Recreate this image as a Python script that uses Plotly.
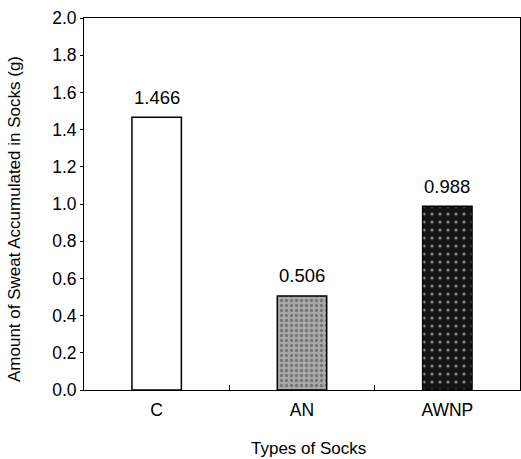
import plotly.graph_objects as go

categories = ["C", "AN", "AWNP"]
values = [1.466, 0.506, 0.988]
labels = ["1.466", "0.506", "0.988"]
colors = ["#ffffff", "#a9a9a9", "#141414"]
tick_vals = [0.0, 0.2, 0.4, 0.6, 0.8, 1.0, 1.2, 1.4, 1.6, 1.8, 2.0]
tick_text = ["0.0", "0.2", "0.4", "0.6", "0.8", "1.0", "1.2", "1.4", "1.6", "1.8", "2.0"]
x_title = "Types of Socks"
y_title = "Amount of Sweat Accumulated in Socks (g)"

font_family = "Liberation Sans, Arial, sans-serif"

fig = go.Figure()
fig.add_trace(go.Bar(
    x=categories,
    y=values,
    width=0.34,
    marker=dict(
        color=colors,
        line=dict(color="black", width=1.5),
        pattern=dict(shape=["", ".", "."], fgcolor=["#ffffff", "#f2f2f2", "#6a6a6a"],
                     size=[6, 5, 8], solidity=[0.25, 0.35, 0.12]),
    ),
    showlegend=False,
))

for c, v, t in zip(categories, values, labels):
    fig.add_annotation(x=c, y=v, text=t, showarrow=False, yshift=20,
                       font=dict(size=18.5, color="black", family=font_family))

# axis titles placed as annotations for exact positioning
fig.add_annotation(xref="paper", yref="paper", x=0.516, y=-0.156, text=x_title,
                   xanchor="center", yanchor="middle",
                   showarrow=False, font=dict(size=17, color="black", family=font_family))
fig.add_annotation(xref="paper", yref="paper", x=-0.158, y=0.46, text=y_title, textangle=-90,
                   xanchor="center", yanchor="middle",
                   showarrow=False, font=dict(size=17, color="black", family=font_family))

fig.update_layout(
    width=521, height=459,
    margin=dict(l=84, r=1, t=18, b=69),
    paper_bgcolor="white", plot_bgcolor="white",
    font=dict(family=font_family, color="black", size=17),
)
fig.update_xaxes(
    range=[-0.5, 2.5],
    showline=True, linecolor="black", linewidth=1, mirror=True,
    ticks="inside", tickson="boundaries", ticklen=5, tickcolor="black",
    showgrid=False,
    ticklabelstandoff=4,
    tickfont=dict(size=17.5),
)
fig.update_yaxes(
    range=[0, 2.0],
    tickvals=tick_vals, ticktext=tick_text,
    showline=True, linecolor="black", linewidth=1, mirror=True,
    ticks="outside", ticklen=3, tickcolor="black",
    showgrid=False, zeroline=False,
    tickfont=dict(size=17.5),
)

fig.write_html("out.html")
